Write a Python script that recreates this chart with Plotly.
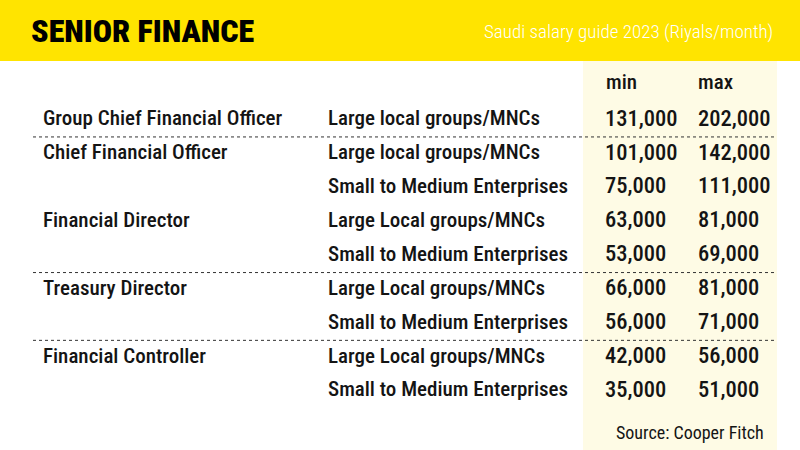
import plotly.graph_objects as go

job_titles = ['Group Chief Financial Officer', 'Chief Financial Officer', '', 'Financial Director', '',
              'Treasury Director', '', 'Financial Controller', '']
companies = ['Large local groups/MNCs', 'Large local groups/MNCs', 'Small to Medium Enterprises',
             'Large Local groups/MNCs', 'Small to Medium Enterprises', 'Large Local groups/MNCs',
             'Small to Medium Enterprises', 'Large Local groups/MNCs', 'Small to Medium Enterprises']
min_pay = [131000, 101000, 75000, 63000, 53000, 66000, 56000, 42000, 35000]
max_pay = [202000, 142000, 111000, 81000, 69000, 81000, 71000, 56000, 51000]
# dotted rule drawn after these rows
breaks_after = [0, 4, 6]

title = 'SENIOR FINANCE'
subtitle = 'Saudi salary guide 2023 (Riyals/month)'
source = 'Source: Cooper Fitch'

FONT = 'Roboto Condensed, Liberation Sans Narrow, Roboto, sans-serif'
INK = '#141414'
YELLOW = '#FFE400'
CREAM = '#FEFBE5'

row0, row_h = 120, 33.9
rows_y = [row0 + i * row_h for i in range(len(companies))]

fig = go.Figure()

def text_col(x, labels, size=21, ys=None):
    fig.add_trace(go.Scatter(
        x=[x] * len(labels), y=ys or rows_y[:len(labels)], mode='text', text=labels,
        textposition='middle right', textfont=dict(family=FONT, size=size, color=INK, weight=500),
        hoverinfo='skip', showlegend=False))

text_col(43, job_titles)
text_col(328, companies)
text_col(605, [f'{v:,}' for v in min_pay], size=22.5)
text_col(698, [f'{v:,}' for v in max_pay], size=22.5)

# column heads
text_col(606, ['min'], ys=[84])
text_col(698, ['max'], ys=[84])

shapes = [
    dict(type='rect', x0=0, x1=800, y0=0, y1=61, fillcolor=YELLOW, line_width=0, layer='below'),
    dict(type='rect', x0=583, x1=777, y0=61, y1=450, fillcolor=CREAM, line_width=0, layer='below'),
]
for r in breaks_after:
    yy = (rows_y[r] + rows_y[r + 1]) / 2
    shapes.append(dict(type='line', x0=33, x1=777, y0=yy, y1=yy,
                       line=dict(color='#333333', width=1, dash='dot')))

fig.update_layout(
    width=800, height=450, margin=dict(l=0, r=0, t=0, b=0),
    paper_bgcolor='white', plot_bgcolor='white',
    xaxis=dict(range=[0, 800], visible=False, fixedrange=True),
    yaxis=dict(range=[450, 0], visible=False, fixedrange=True),
    shapes=shapes,
    annotations=[
        dict(x=29, y=31, xref='x', yref='y', text=title, showarrow=False,
             xanchor='left', yanchor='middle',
             font=dict(family=FONT, size=32, color='#000000', weight=900)),
        dict(x=775, y=31, xref='x', yref='y', text=subtitle, showarrow=False,
             xanchor='right', yanchor='middle', font=dict(family=FONT, size=19, color='white', weight=300)),
        dict(x=766, y=432, xref='x', yref='y', text=source, showarrow=False,
             xanchor='right', yanchor='middle', font=dict(family=FONT, size=18, color=INK)),
    ],
)

fig.write_html('out.html', config={'displayModeBar': False},
               post_script="document.body.style.margin='0';")
